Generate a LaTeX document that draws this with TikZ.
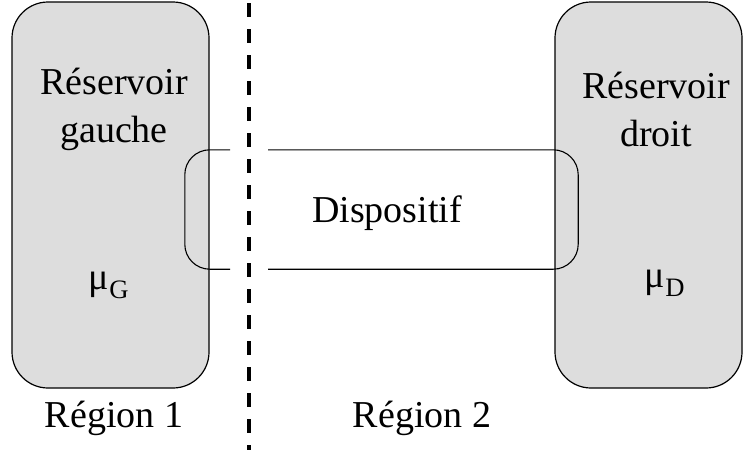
\documentclass[tikz,border=0pt]{standalone}
\usepackage{fontspec}
\setmainfont{Liberation Serif}
\usetikzlibrary{positioning}
\definecolor{reservoirgray}{HTML}{DDDDDD}

\begin{document}
\begin{tikzpicture}[x=1pt,y=-1pt,
  reservoir/.style={draw,line width=1.2pt,fill=reservoirgray,rounded corners=36pt,
    minimum width=197pt,minimum height=386pt,inner sep=0pt},
  devline/.style={line width=1.1pt,rounded corners=25pt},
  separator/.style={line width=4pt,dash pattern=on 14pt off 12pt},
  txt/.style={font=\fontsize{38}{48}\selectfont,inner sep=0pt,align=center}]
  \useasboundingbox (0,0) rectangle (743,450);
  % reservoirs
  \node[reservoir] (resG) at (110.5,195) {};
  \node[reservoir,minimum width=187pt] (resD) at (648.5,195) {};
  % device, cut where it crosses the separator
  \node[minimum width=393pt,minimum height=119pt,inner sep=0pt] (dev) at (381.5,209.5) {};
  \coordinate (cutG) at (230,0);
  \coordinate (cutD) at (268,0);
  \draw[devline] (dev.north -| cutG) -- (dev.north west) -- (dev.south west) -- (dev.south -| cutG);
  \draw[devline] (dev.north -| cutD) -- (dev.north east) -- (dev.south east) -- (dev.south -| cutD);
  % separator between the two regions
  \coordinate (sepTop) at (249,3);
  \coordinate (sepBot) at (249,450);
  \draw[separator] (sepTop) -- (sepBot);
  % texts
  \node[txt] (nameG) at (114,109) {Réservoir\\gauche};
  \node[txt] (nameD) at (656,109) {Réservoir\\droit};
  \node[txt] (devname) at (387,213) {Dispositif};
  \node[txt] (muG) at (109,285) {μ\textsubscript{G}};
  \node[txt] (muD) at (665,283) {μ\textsubscript{D}};
  \node[txt] (reg1) at (114,418) {Région 1};
  \node[txt] (reg2) at (422,418) {Région 2};
\end{tikzpicture}
\end{document}
